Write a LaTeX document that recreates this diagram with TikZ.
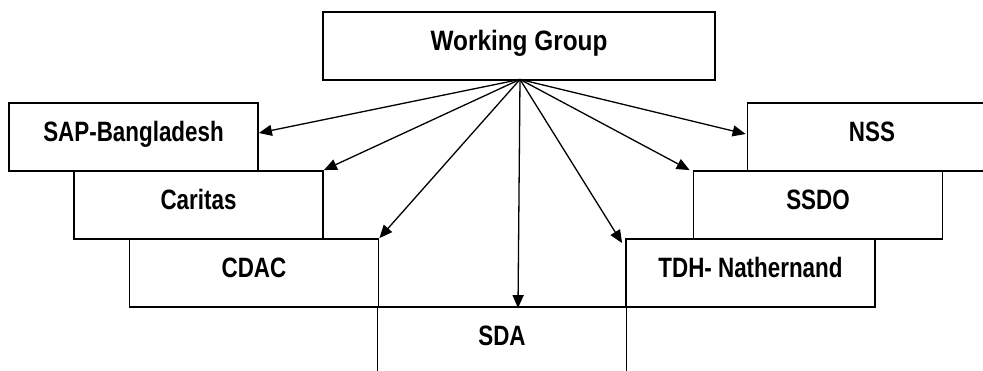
\documentclass[tikz,border=0pt]{standalone}
\usepackage{fontspec}
\setmainfont{Liberation Sans}[FakeStretch=0.80]
\newfontfamily\wgfont{Liberation Sans}[FakeStretch=0.87]
\usetikzlibrary{arrows.meta}
\tikzset{
  box/.style={draw, line width=1.8pt, rectangle, inner sep=0pt, minimum width=#1, minimum height=68pt},
  box/.default=249pt,
  lbl/.style={anchor=base, inner sep=0pt, font=\fontsize{28}{30}\selectfont\bfseries},
  arr/.style={line width=1.3pt, -{Triangle[length=13pt,width=11pt]}}
}
\begin{document}
\begin{tikzpicture}[x=1pt,y=-1pt]
\useasboundingbox (0,0) rectangle (983,370);
\clip (0,0) rectangle (983,370);
% boxes
\node[box=392pt] (wg) at (519,46) {};
\node[box] (sap) at (133.5,137) {};
\node[box] (car) at (198.5,205) {};
\node[box] (cdac) at (254,273) {};
\node[box] (sda) at (502,341) {};
\node[box] (tdh) at (750.5,273) {};
\node[box] (ssdo) at (818,205) {};
\node[box] (nss) at (872,137) {};
% labels
\node[lbl, font=\fontsize{28}{30}\wgfont\bfseries] (wgt) at ([yshift=-4.5pt]wg.center) {Working Group};
\node[lbl] (sapt) at ([yshift=-4.5pt]sap.center) {SAP-Bangladesh};
\node[lbl] (cart) at ([yshift=-4.5pt]car.center) {Caritas};
\node[lbl] (cdact) at ([yshift=-4.5pt]cdac.center) {CDAC};
\node[lbl] (sdat) at ([yshift=-4.5pt]sda.center) {SDA};
\node[lbl] (tdht) at ([yshift=-4.5pt]tdh.center) {TDH- Nathernand};
\node[lbl] (ssdot) at ([yshift=-4.5pt]ssdo.center) {SSDO};
\node[lbl] (nsst) at ([yshift=-4.5pt]nss.center) {NSS};
% connectors
\coordinate (src) at ([xshift=1pt,yshift=1.5pt]wg.south);
\draw[arr] (src) -- ([yshift=4pt]sap.east);
\draw[arr] (src) -- (car.north east);
\draw[arr] (src) -- (cdac.north east);
\draw[arr] (src) -- ([xshift=16pt,yshift=-2pt]sda.north);
\draw[arr] (src) -- ([xshift=-3pt,yshift=-5pt]tdh.north west);
\draw[arr] (src) -- ([xshift=-3pt]ssdo.north west);
\draw[arr] (src) -- ([xshift=-1pt,yshift=3pt]nss.west);
\end{tikzpicture}
\end{document}
